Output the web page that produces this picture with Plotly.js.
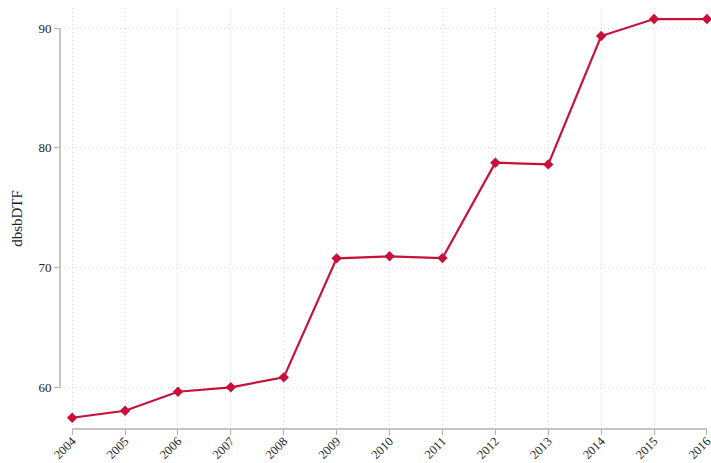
<!DOCTYPE html>
<html>
<head>
<meta charset="utf-8">
<script src="https://cdn.plot.ly/plotly-3.0.1.min.js"></script>
<style>
  html, body { margin: 0; padding: 0; background: #fff; }
  #chart { width: 711px; height: 463px; }
</style>
</head>
<body>
<div id="chart"></div>
<script>
// values
const years = [2004, 2005, 2006, 2007, 2008, 2009, 2010, 2011, 2012, 2013, 2014, 2015, 2016];
const dbsbDTF = [57.48, 58.06, 59.65, 60.02, 60.85, 70.78, 70.95, 70.8, 78.76, 78.62, 89.33, 90.75, 90.75];
const yTicks = [60, 70, 80, 90];

const lineColor = '#c8103c';
const axisGray = '#b0b0b0';
const serif = 'Liberation Serif';

const trace = {
    x: years,
    y: dbsbDTF,
    type: 'scatter',
    mode: 'lines+markers',
    line: { color: lineColor, width: 2.2 },
    marker: { symbol: 'diamond', size: 8, color: lineColor },
    cliponaxis: false,
    hoverinfo: 'x+y'
};

const layout = {
    width: 711,
    height: 463,
    margin: { l: 60, r: 4, t: 8, b: 34 },
    paper_bgcolor: '#ffffff',
    plot_bgcolor: '#ffffff',
    showlegend: false,
    font: { family: serif, color: '#222', size: 13 },
    xaxis: {
        range: [2003.77, 2016.001],
        tickmode: 'array',
        tickvals: years,
        ticktext: years.map(String),
        tickangle: -45,
        ticks: 'outside',
        ticklen: 5,
        tickcolor: axisGray,
        ticklabeloverflow: 'allow',
        ticklabelstandoff: -6,
        showline: false,
        zeroline: false,
        showgrid: true,
        gridcolor: '#d8d8d8',
        griddash: '1px,3px',
        gridwidth: 1,
        tickfont: { family: serif, size: 12.5, color: '#222' }
    },
    yaxis: {
        range: [56.54, 91.67],
        tickmode: 'array',
        tickvals: yTicks,
        ticks: 'outside',
        ticklen: 5,
        tickcolor: axisGray,
        showline: false,
        zeroline: false,
        showgrid: true,
        gridcolor: '#d8d8d8',
        griddash: '1px,3px',
        gridwidth: 1,
        tickfont: { family: serif, size: 13, color: '#222' },
        title: { text: 'dbsbDTF', font: { family: serif, size: 15, color: '#222' }, standoff: 12 }
    },
    shapes: [
        // y axis domain line, from first to last tick
        { type: 'line', xref: 'paper', yref: 'y', x0: 0, x1: 0, y0: yTicks[0], y1: yTicks[yTicks.length - 1],
          line: { color: axisGray, width: 1.5 } },
        // x axis domain line, from first to last year
        { type: 'line', xref: 'x', yref: 'paper', x0: years[0], x1: years[years.length - 1], y0: 0, y1: 0,
          line: { color: axisGray, width: 1.5 } }
    ]
};

Plotly.newPlot('chart', [trace], layout, { displayModeBar: false, staticPlot: true });
</script>
</body>
</html>
